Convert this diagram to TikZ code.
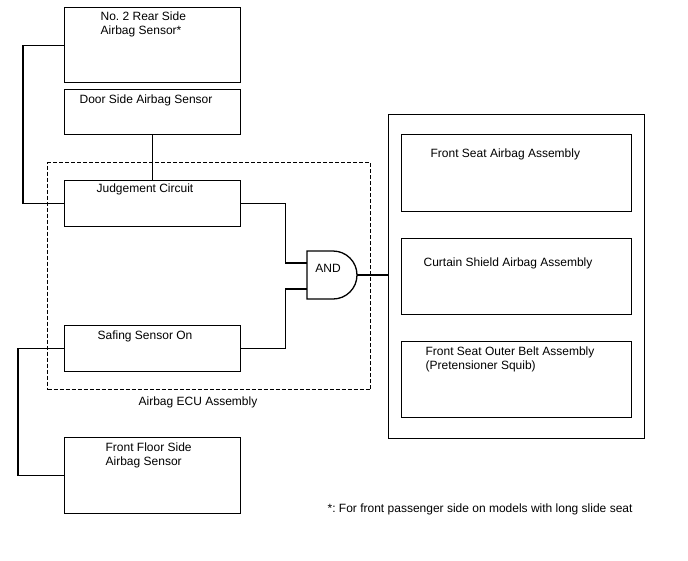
\documentclass[tikz,border=0pt]{standalone}
\usepackage{fontspec}
\setmainfont{Liberation Sans}
\frenchspacing
\begin{document}
\begin{tikzpicture}[x=1pt,y=-1pt,line width=1.3pt,
  box/.style={draw,rectangle,inner sep=0pt,anchor=north west},
  lbl/.style={anchor=west,inner sep=0pt,font=\fontsize{12}{14}\selectfont,align=left},
  clbl/.style={anchor=center,inner sep=0pt,font=\fontsize{12}{14}\selectfont}]
\useasboundingbox[fill=white] (0,0) rectangle (688,560);
% boxes
\node[box,minimum width=176pt,minimum height=75pt] (rear) at (64,7) {};
\node[box,minimum width=176pt,minimum height=45pt] (door) at (64,89) {};
\node[draw,dash pattern=on 4pt off 2pt,rectangle,inner sep=0pt,anchor=north west,minimum width=323pt,minimum height=227pt,line width=1.1pt] (ecu) at (47,162) {};
\node[box,minimum width=176pt,minimum height=46pt] (judge) at (64,180) {};
\node[box,minimum width=176pt,minimum height=46pt] (safe) at (64,325) {};
\node[box,minimum width=176pt,minimum height=76pt] (floor) at (64,437) {};
\node[box,minimum width=256pt,minimum height=324pt] (panel) at (388,114) {};
\node[box,minimum width=230pt,minimum height=77pt] (fsa) at (401,134) {};
\node[box,minimum width=230pt,minimum height=76pt] (csa) at (401,238) {};
\node[box,minimum width=230pt,minimum height=76pt] (fsob) at (401,341) {};
% texts
\node[lbl,anchor=north west] (trear) at (100,11) {No. 2 Rear Side\\Airbag Sensor*};
\node[lbl] (tdoor) at (79,100) {Door Side Airbag Sensor};
\node[clbl] (tjudge) at (145,189) {Judgement Circuit};
\node[clbl] (tsafe) at (145,336) {Safing Sensor On};
\node[lbl,anchor=north west] (tfloor) at (105,442) {Front Floor Side\\Airbag Sensor};
\node[clbl] (tecu) at (198,402) {Airbag ECU Assembly};
\node[lbl] (tfsa) at (430,154) {Front Seat Airbag Assembly};
\node[lbl] (tcsa) at (423,263) {Curtain Shield Airbag Assembly};
\node[lbl,anchor=north west] (tfsob) at (425,346) {Front Seat Outer Belt Assembly\\(Pretensioner Squib)};
\node[lbl] (tnote) at (327,509) {*: For front passenger side on models with long slide seat};
% AND gate
\coordinate (in1) at (307,263);
\coordinate (in2) at (307,289);
\coordinate (andout) at (357,275);
\draw (307,251) -- (333,251) arc (-90:90:24) -- (307,299) -- cycle;
\node[clbl] (tand) at (328,268) {AND};
% connectors
\draw (rear.west) -- ++(-41,0) |- (judge.west);
\draw (door.south) -- (door.south |- judge.north);
\draw (judge.east) -- ++(44,0) |- (in1);
\draw (safe.east) -- ++(44,0) |- (in2);
\draw (safe.west) -- ++(-46,0) |- (floor.west);
\draw (andout) -- (andout -| panel.west);
\end{tikzpicture}
\end{document}
